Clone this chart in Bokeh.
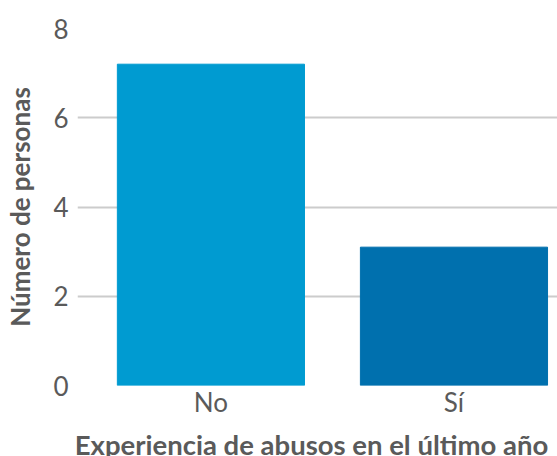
from bokeh.plotting import figure
from bokeh.models import Range1d, FixedTicker, ColumnDataSource, Label
from bokeh.embed import file_html
from bokeh.resources import INLINE

categories = ["No", "Sí"]
values = [7.2, 3.1]
colors = ["#009bd1", "#0070ae"]
y_ticks = [0, 2, 4, 6, 8]
x_title = "Experiencia de abusos en el último año"
y_title = "Número de personas"

x_pos = list(range(len(categories)))
src = ColumnDataSource(dict(x=x_pos, top=values, color=colors, cat=categories))

p = figure(width=557, height=456, output_backend="svg", toolbar_location=None,
           x_range=Range1d(-0.549, 1.426), y_range=Range1d(0, 8),
           min_border_left=77, min_border_right=0, min_border_top=28, min_border_bottom=71)
p.outline_line_color = None
p.vbar(x="x", top="top", bottom=0, width=0.77, color="color", source=src)

font = "Lato"
text_color = "#5a5a5a"

p.xaxis.ticker = FixedTicker(ticks=x_pos)
p.xaxis.major_label_overrides = {i: c for i, c in zip(x_pos, categories)}
p.yaxis.ticker = FixedTicker(ticks=y_ticks)

for ax in (p.xaxis, p.yaxis):
    ax.axis_line_color = None
    ax.major_tick_line_color = None
    ax.minor_tick_line_color = None
    ax.major_tick_out = 0
    ax.major_label_text_font = font
    ax.major_label_text_font_size = "26px"
    ax.major_label_text_color = text_color
    ax.axis_label_text_font = font
    ax.axis_label_text_font_style = "bold"
    ax.axis_label_text_color = text_color

p.yaxis.axis_label = y_title
p.yaxis.axis_label_text_font_size = "26px"
p.yaxis.major_label_standoff = 9
p.xaxis.major_label_standoff = 0
p.yaxis.axis_label_standoff = 14

xlab = Label(x=234, y=9, x_units="screen", y_units="screen", text=x_title,
             text_align="center", text_baseline="alphabetic",
             text_font=font, text_font_size="27.5px", text_font_style="bold",
             text_color=text_color)
p.add_layout(xlab, "below")

p.xgrid.grid_line_color = None
p.ygrid.grid_line_color = "#cccccc"
p.ygrid.grid_line_width = 2

open("out.html", "w").write(file_html(p, INLINE))
